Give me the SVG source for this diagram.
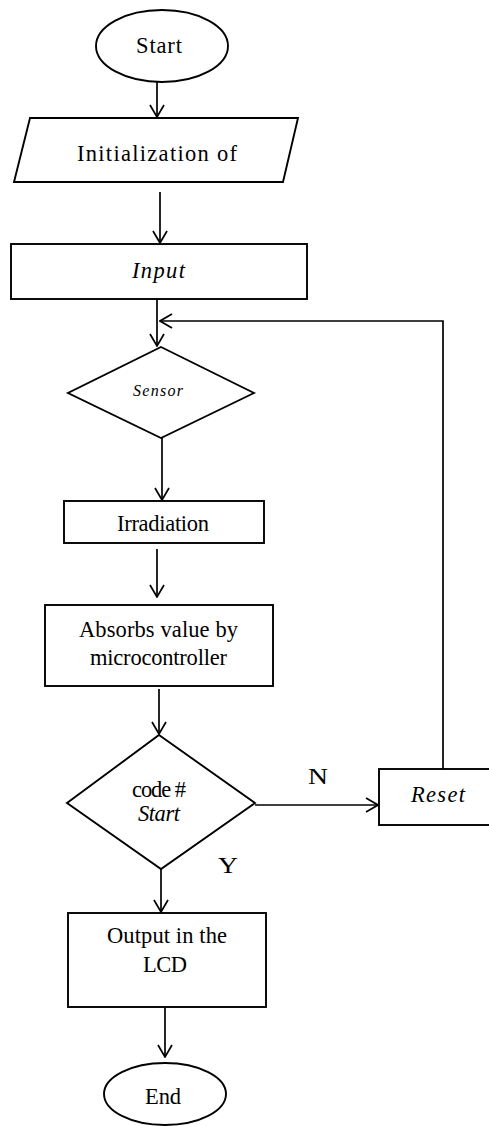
<svg xmlns="http://www.w3.org/2000/svg" width="489" height="1126" viewBox="0 0 489 1126">
<style>
.s{fill:#fff;stroke:#000;stroke-width:1.9}
.c{fill:none;stroke:#000;stroke-width:1.7}
.t{font-family:"Liberation Serif","Times New Roman",serif;font-size:22.5px;fill:#000}
.i{font-style:italic}
</style>
<defs>
<marker id="a" viewBox="0 0 14 16" refX="13" refY="8" markerWidth="14" markerHeight="16" markerUnits="userSpaceOnUse" orient="auto">
<path d="M1,1 L13,8 L1,15" fill="none" stroke="#000" stroke-width="1.7"/>
</marker>
</defs>
<rect width="489" height="1126" fill="#fff"/>
<g id="connectors">
<line class="c" x1="157" y1="82" x2="157" y2="117" marker-end="url(#a)"/>
<line class="c" x1="160" y1="192" x2="160" y2="243" marker-end="url(#a)"/>
<line class="c" x1="157" y1="299" x2="157" y2="346" marker-end="url(#a)"/>
<polyline class="c" points="443,769 443,321 160,321" marker-end="url(#a)"/>
<line class="c" x1="162" y1="438" x2="162" y2="500" marker-end="url(#a)"/>
<line class="c" x1="157" y1="549" x2="157" y2="597" marker-end="url(#a)"/>
<line class="c" x1="159" y1="689" x2="159" y2="734" marker-end="url(#a)"/>
<line class="c" x1="255" y1="805" x2="378" y2="805" marker-end="url(#a)"/>
<line class="c" x1="161" y1="869" x2="161" y2="912" marker-end="url(#a)"/>
<line class="c" x1="165" y1="1008" x2="165" y2="1057" marker-end="url(#a)"/>
<text class="t" x="308" y="784" style="font-size:24px" textLength="20" lengthAdjust="spacingAndGlyphs">N</text>
<text class="t" x="218" y="873" style="font-size:24px" textLength="20" lengthAdjust="spacingAndGlyphs">Y</text>
</g>
<g id="start">
<ellipse class="s" cx="162" cy="46" rx="66" ry="36"/>
<text class="t" x="136" y="53" textLength="46" lengthAdjust="spacing">Start</text>
</g>
<g id="init">
<polygon class="s" points="30,118 298,118 283,182 14,182"/>
<text class="t" x="77" y="161" textLength="160" lengthAdjust="spacing">Initialization of</text>
</g>
<g id="input">
<rect class="s" x="11" y="244" width="296" height="55"/>
<text class="t i" x="132" y="278" textLength="53" lengthAdjust="spacing">Input</text>
</g>
<g id="sensor">
<polygon class="s" points="161,347 254,393 161,438 68,393"/>
<text class="t i" x="133" y="396" style="font-size:16px" textLength="50" lengthAdjust="spacing">Sensor</text>
</g>
<g id="irradiation">
<rect class="s" x="64" y="501" width="200" height="42"/>
<text class="t" x="117" y="531" textLength="92" lengthAdjust="spacing">Irradiation</text>
</g>
<g id="absorbs">
<rect class="s" x="45" y="605" width="228" height="81"/>
<text class="t" x="79" y="637" textLength="159" lengthAdjust="spacing">Absorbs value by</text>
<text class="t" x="90" y="665" textLength="137" lengthAdjust="spacing">microcontroller</text>
</g>
<g id="decision">
<polygon class="s" points="159,735 255,803 161,869 67,803"/>
<text class="t" x="132" y="797" textLength="54" lengthAdjust="spacing">code #</text>
<text class="t i" x="138" y="821" textLength="42" lengthAdjust="spacing">Start</text>
</g>
<g id="reset">
<rect class="s" x="379" y="769" width="112" height="56"/>
<text class="t i" x="411" y="802" textLength="54" lengthAdjust="spacing">Reset</text>
</g>
<g id="output">
<rect class="s" x="68" y="913" width="198" height="94"/>
<text class="t" x="107" y="943" textLength="120" lengthAdjust="spacing">Output in the</text>
<text class="t" x="143" y="972" textLength="44" lengthAdjust="spacing">LCD</text>
</g>
<g id="end">
<ellipse class="s" cx="165" cy="1094" rx="61" ry="31"/>
<text class="t" x="145" y="1104" textLength="36" lengthAdjust="spacing">End</text>
</g>
</svg>
